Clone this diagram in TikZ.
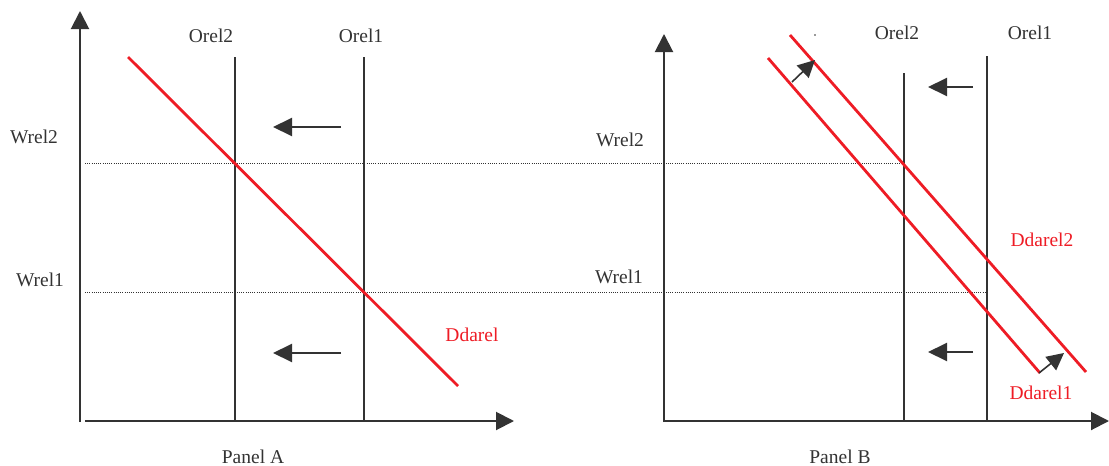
\documentclass[tikz,border=0pt]{standalone}
\usepackage{fontspec}
\setmainfont{Liberation Serif}
\usetikzlibrary{arrows.meta}
\definecolor{ink}{HTML}{333333}
\definecolor{dred}{HTML}{EE1C25}
\begin{document}
\begin{tikzpicture}[x=1pt,y=-1pt,
  axis/.style={draw=ink,line width=2pt,-{Triangle[length=18pt,width=18pt]}},
  supply/.style={draw=ink,line width=1.5pt},
  demand/.style={draw=dred,line width=2.8pt},
  guide/.style={draw=ink,line width=0.9pt,dash pattern=on 1pt off 1.2pt},
  movearrow/.style={draw=ink,line width=2pt,-{Triangle[length=19pt,width=18pt]}},
  diagarrow/.style={draw=ink,line width=1.6pt,-{Triangle[length=17pt,width=17pt]}},
  lbl/.style={inner sep=0pt,text=ink,font=\fontsize{19.5}{22}\selectfont},
  rlbl/.style={lbl,text=dred}]
\useasboundingbox (0,0) rectangle (1109,466);
% ---------- Panel A ----------
\coordinate (Ao) at (80,422);
\coordinate (Ay) at (80,11);
\coordinate (Ax) at (514,421);
\coordinate (Axs) at (85,421);
\draw[axis] (Ao) -- (Ay);
\draw[axis] (Axs) -- (Ax);
\coordinate (AO2t) at (235,57); \coordinate (AO2b) at (235,421);
\coordinate (AO1t) at (364,57); \coordinate (AO1b) at (364,421);
\draw[supply] (AO2t) -- (AO2b);
\draw[supply] (AO1t) -- (AO1b);
\node[lbl] (aorel2) at (211,36) {Orel2};
\node[lbl] (aorel1) at (361,36) {Orel1};
\node[lbl] (awrel2) at (34,137) {Wrel2};
\node[lbl] (awrel1) at (40,280) {Wrel1};
% dotted guides (run across both panels)
\coordinate (G2s) at (85,163); \coordinate (G2e) at (905,163);
\coordinate (G1s) at (85,292); \coordinate (G1e) at (986,292);
\draw[guide] (G2s) -- (G2e);
\draw[guide] (G1s) -- (G1e);
\coordinate (ADs) at (128,57); \coordinate (ADe) at (458,386);
\draw[demand] (ADs) -- (ADe);
\node[rlbl] (addarel) at (472,335) {Ddarel};
\coordinate (Aa1s) at (341,127); \coordinate (Aa1e) at (273,127);
\coordinate (Aa2s) at (341,353); \coordinate (Aa2e) at (273,353);
\draw[movearrow] (Aa1s) -- (Aa1e);
\draw[movearrow] (Aa2s) -- (Aa2e);
\node[lbl] (panela) at (253,457) {Panel A};
% ---------- Panel B ----------
\coordinate (Bo) at (664,422);
\coordinate (By) at (664,34);
\coordinate (Bx) at (1109,421);
\coordinate (Bxs) at (663,421);
\draw[axis] (Bo) -- (By);
\draw[axis] (Bxs) -- (Bx);
\coordinate (BO2t) at (904,73); \coordinate (BO2b) at (904,421);
\coordinate (BO1t) at (987,56); \coordinate (BO1b) at (987,421);
\draw[supply] (BO2t) -- (BO2b);
\draw[supply] (BO1t) -- (BO1b);
\node[lbl] (borel2) at (897,33) {Orel2};
\node[lbl] (borel1) at (1030,33) {Orel1};
\node[lbl] (bwrel2) at (620,140) {Wrel2};
\node[lbl] (bwrel1) at (619,277) {Wrel1};
\coordinate (bdot) at (815,35);
\fill[ink] (bdot) circle (0.9pt);
\coordinate (BD2s) at (790,35); \coordinate (BD2e) at (1086,372);
\coordinate (BD1s) at (768,58); \coordinate (BD1e) at (1040,373);
\draw[demand] (BD2s) -- (BD2e);
\draw[demand] (BD1s) -- (BD1e);
\node[rlbl] (bddarel2) at (1042,240) {Ddarel2};
\node[rlbl] (bddarel1) at (1041,393) {Ddarel1};
\coordinate (Bd1s) at (792,82); \coordinate (Bd1e) at (815,60);
\coordinate (Bd2s) at (1039,373); \coordinate (Bd2e) at (1064,353);
\draw[diagarrow] (Bd1s) -- (Bd1e);
\draw[diagarrow] (Bd2s) -- (Bd2e);
\coordinate (Ba1s) at (973,87); \coordinate (Ba1e) at (928,87);
\coordinate (Ba2s) at (973,352); \coordinate (Ba2e) at (928,352);
\draw[movearrow] (Ba1s) -- (Ba1e);
\draw[movearrow] (Ba2s) -- (Ba2e);
\node[lbl] (panelb) at (840,457) {Panel B};
\end{tikzpicture}
\end{document}
